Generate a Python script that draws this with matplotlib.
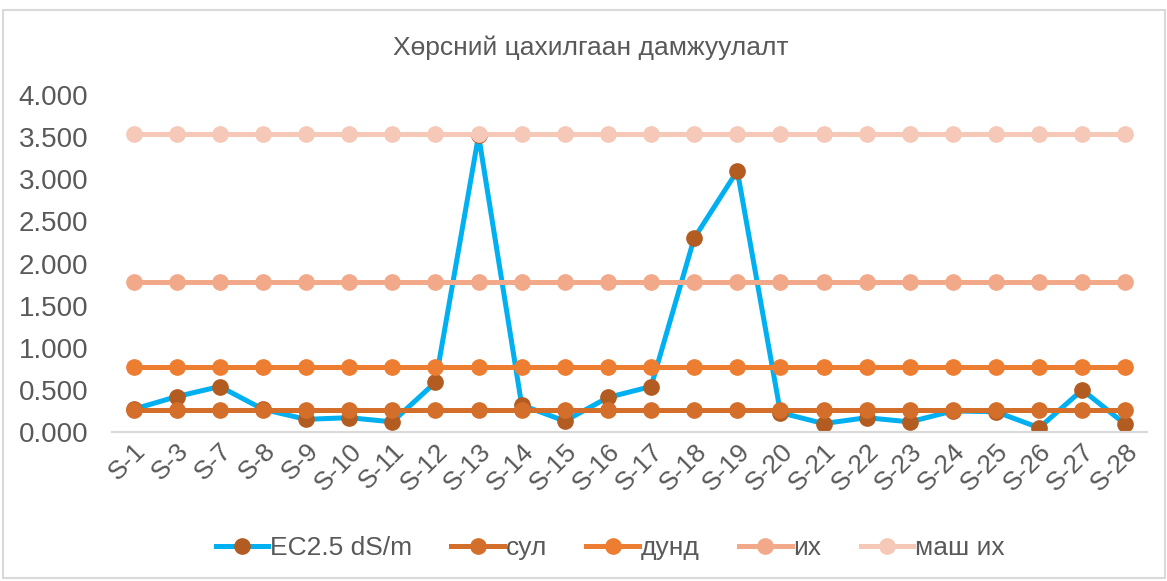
import matplotlib
matplotlib.use("Agg")
import matplotlib.pyplot as plt
from matplotlib.patches import Rectangle

plt.rcParams['font.family'] = ['Liberation Sans', 'DejaVu Sans']

categories = ["S-1", "S-3", "S-7", "S-8", "S-9", "S-10", "S-11", "S-12", "S-13", "S-14",
              "S-15", "S-16", "S-17", "S-18", "S-19", "S-20", "S-21", "S-22", "S-23", "S-24",
              "S-25", "S-26", "S-27", "S-28"]
ec = [0.27, 0.42, 0.54, 0.27, 0.15, 0.17, 0.12, 0.59, 3.52, 0.32,
      0.13, 0.41, 0.54, 2.30, 3.10, 0.23, 0.10, 0.17, 0.12, 0.25,
      0.24, 0.05, 0.50, 0.09]
sul = [0.26] * len(categories)
dund = [0.77] * len(categories)
ikh = [1.78] * len(categories)
mash_ikh = [3.54] * len(categories)

series_names = ["EC2.5 dS/m", "сул", "дунд", "их", "маш их"]
title = "Хөрсний цахилгаан дамжуулалт"
yticks = [0.0, 0.5, 1.0, 1.5, 2.0, 2.5, 3.0, 3.5, 4.0]

fig = plt.figure(figsize=(11.67, 5.81), dpi=100)
W, H = 1167, 581
ax = fig.add_axes([112 / W, 1 - 432 / H, (1147 - 112) / W, (432 - 95) / H])

x = list(range(len(categories)))
ax.plot(x, ec, color="#00B0F0", lw=3.6, marker="o", ms=11,
        mfc="#B35C22", mec="#B35C22", label=series_names[0], zorder=2)
ax.plot(x, sul, color="#D46F2B", lw=3.6, marker="o", ms=11,
        mfc="#D46F2B", mec="#D46F2B", label=series_names[1], zorder=3)
ax.plot(x, dund, color="#ED7D31", lw=3.6, marker="o", ms=11,
        mfc="#ED7D31", mec="#ED7D31", label=series_names[2], zorder=4)
ax.plot(x, ikh, color="#F1A98A", lw=3.6, marker="o", ms=11,
        mfc="#F1A98A", mec="#F1A98A", label=series_names[3], zorder=5)
ax.plot(x, mash_ikh, color="#F5C8B7", lw=3.6, marker="o", ms=11,
        mfc="#F5C8B7", mec="#F5C8B7", label=series_names[4], zorder=6)

ax.set_xlim(-0.5, len(categories) - 0.5)
ax.set_ylim(0, 4.0)
ax.set_yticks(yticks)
ax.set_yticklabels([f"{v:.3f}" for v in yticks], fontsize=20, color="#595959")
ax.set_xticks(x)
ax.set_xticklabels(categories, rotation=45, ha="right", va="top",
                   rotation_mode="anchor", fontsize=19, color="#595959")
ax.tick_params(axis="both", length=0)
ax.tick_params(axis="x", pad=5)
ax.tick_params(axis="y", pad=17)
for s in ["top", "right", "left"]:
    ax.spines[s].set_visible(False)
ax.spines["bottom"].set_color("#D9D9D9")
ax.spines["bottom"].set_linewidth(1.5)
ax.patch.set_alpha(0)

fig.text(591 / W, 1 - 48 / H, title, ha="center", va="center",
         fontsize=19, color="#595959")

leg = fig.legend(loc="center", bbox_to_anchor=(610 / W, 1 - 548 / H), ncol=5,
                 frameon=False, fontsize=19, handlelength=2.0, columnspacing=1.5,
                 handletextpad=0.05)
for t in leg.get_texts():
    t.set_color("#595959")

fig.patches.append(Rectangle((3 / W, 1 - 578 / H), 1162 / W, 568 / H,
                             transform=fig.transFigure, fill=False,
                             edgecolor="#D9D9D9", lw=1.5))

fig.savefig("out.png", dpi=100)
